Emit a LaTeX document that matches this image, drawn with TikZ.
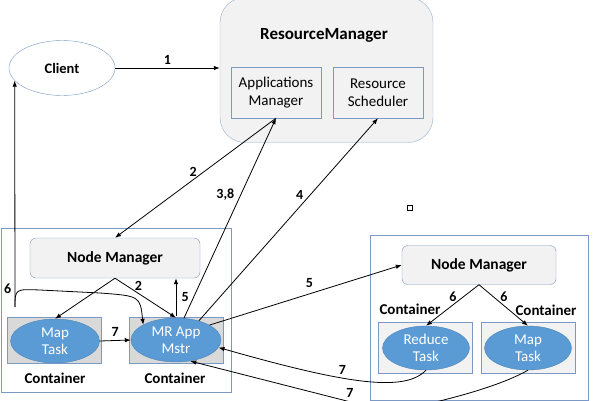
\documentclass[tikz,border=0pt]{standalone}
\usepackage{fontspec}
\setmainfont{Carlito}
\usetikzlibrary{shapes.geometric,arrows.meta}
\definecolor{edgeblue}{RGB}{124,152,196}
\definecolor{taskblue}{RGB}{91,155,213}
\definecolor{boxgray}{RGB}{242,242,242}
\definecolor{contgray}{RGB}{217,217,217}

\begin{document}
\begin{tikzpicture}
    [x=1pt, y=-1pt,
    arr/.style={thick, -{Latex[length=6pt,width=4.5pt]}},
    num/.style={font=\bfseries\fontsize{14}{16}\selectfont},
    outer/.style={draw=edgeblue, fill=white},
    manager/.style={draw=edgeblue, fill=boxgray, rounded corners=6pt, font=\bfseries\fontsize{15.5}{18}\selectfont},
    inner/.style={draw=edgeblue, fill=boxgray, minimum width=90pt, minimum height=51pt, align=center, font=\fontsize{15}{17.5}\selectfont},
    cont/.style={draw=edgeblue, minimum width=94pt, minimum height=46pt},
    task/.style={ellipse, fill=taskblue, draw=taskblue!85!black, inner sep=0pt, minimum width=89pt, minimum height=44pt, align=center, text=white, font=\fontsize{15}{17}\selectfont},
    contlabel/.style={font=\bfseries\fontsize{15}{17}\selectfont}]
        \useasboundingbox (0,0) rectangle (600,400);

        %% Client and ResourceManager
        \node[ellipse, draw=edgeblue, fill=white, minimum width=106pt, minimum height=55pt, font=\bfseries\fontsize{14.5}{17}\selectfont] (client) at (62,68) {Client};
        \node[draw=edgeblue!80, fill=boxgray, rounded corners=25pt, minimum width=213pt, minimum height=145pt] (rm) at (326.5,70) {};
        \node[font=\bfseries\fontsize{17}{20}\selectfont] (rmtitle) at (324,35) {ResourceManager};
        \node[inner] (am) at (276,92.5) {Applications\\Manager};
        \node[inner] (rs) at (378,92.5) {Resource\\Scheduler};

        %% left node
        \node[outer, minimum width=230pt, minimum height=164pt] (left) at (116,310) {};
        \node[manager, minimum width=170pt, minimum height=40pt] (nm1) at (115,258) {Node Manager};
        \node[cont, fill=contgray] (c1) at (54.5,340.5) {};
        \node[cont, fill=contgray] (c2) at (176,340.5) {};
        \node[task] (mt1) at (55,341) {Map\\Task};
        \node[task, minimum width=90pt] (mr) at (176,340) {MR App\\Mstr};
        \node[contlabel] (cl1) at (55,378) {Container};
        \node[contlabel] (cl2) at (175,378) {Container};

        %% right node
        \node[outer, minimum width=218pt, minimum height=165pt] (right) at (479,317.5) {};
        \node[manager, minimum width=154pt, minimum height=39pt] (nm2) at (479,265) {Node Manager};
        \node[cont, fill=boxgray, minimum height=51pt] (c3) at (425,347.5) {};
        \node[cont, fill=boxgray, minimum height=51pt] (c4) at (528,347.5) {};
        \node[task, minimum width=87pt] (rt) at (426,348) {Reduce\\Task};
        \node[task, minimum width=87pt] (mt2) at (528,348) {Map\\Task};
        \node[contlabel] (cl3) at (410,309) {Container};
        \node[contlabel] (cl4) at (546,310) {Container};

        \node[draw, inner sep=0pt, minimum size=5pt] (dot) at (410,208) {};

        %% connectors
        \draw[arr] (client) -- node[num, above] {1} (rm.west |- client);
        \draw[arr] (am.south) -- node[num, pos=0.45, left=3pt] {2} (nm1.north);
        \draw[arr] (mr.70) -- node[num, pos=0.62, left=3pt] {3,8} (am.south);
        \draw[arr] (mr.40) -- node[num, pos=0.62, left=3pt] {4} (rs.south);
        \draw[arr] (nm1.south) -- (mt1.north);
        \draw[arr] (nm1.south) -- node[num, pos=0.2, right=4pt] {2} (mr.north);
        \draw[arr] (mr.north) ++(0,-2) coordinate (up5) -- node[num, right=2pt] {5} (up5 |- nm1.south);
        \draw[arr] (mt1.east) -- node[num, above] {7} (mr.west);
        \draw[arr] (mr.24) -- node[num, pos=0.52, above=3pt] {5} (nm2.west);

        \coordinate (s6) at (15,307);
        \draw[arr] (s6) -- node[num, pos=0.08, left=0pt] {6} (client.195);
        \draw[arr] (s6) .. controls (15,289) .. (40,290) -- (100,293) .. controls (140,296) .. (mr.155);

        \draw[arr] (nm2.south) -- node[num, pos=0.3, left=3pt] {6} (rt.north);
        \draw[arr] (nm2.south) -- node[num, pos=0.3, right=3pt] {6} (mt2.north);
        \draw[arr] (rt.south) .. controls (405,392) and (350,385) .. node[num, pos=0.6, above] {7} (mr.-10);
        \draw[arr] (mt2.south) .. controls (500,386) and (450,400) .. (390,412) -- node[num, pos=0.2, above=1pt] {7} (mr.-56);
\end{tikzpicture}
\end{document}
